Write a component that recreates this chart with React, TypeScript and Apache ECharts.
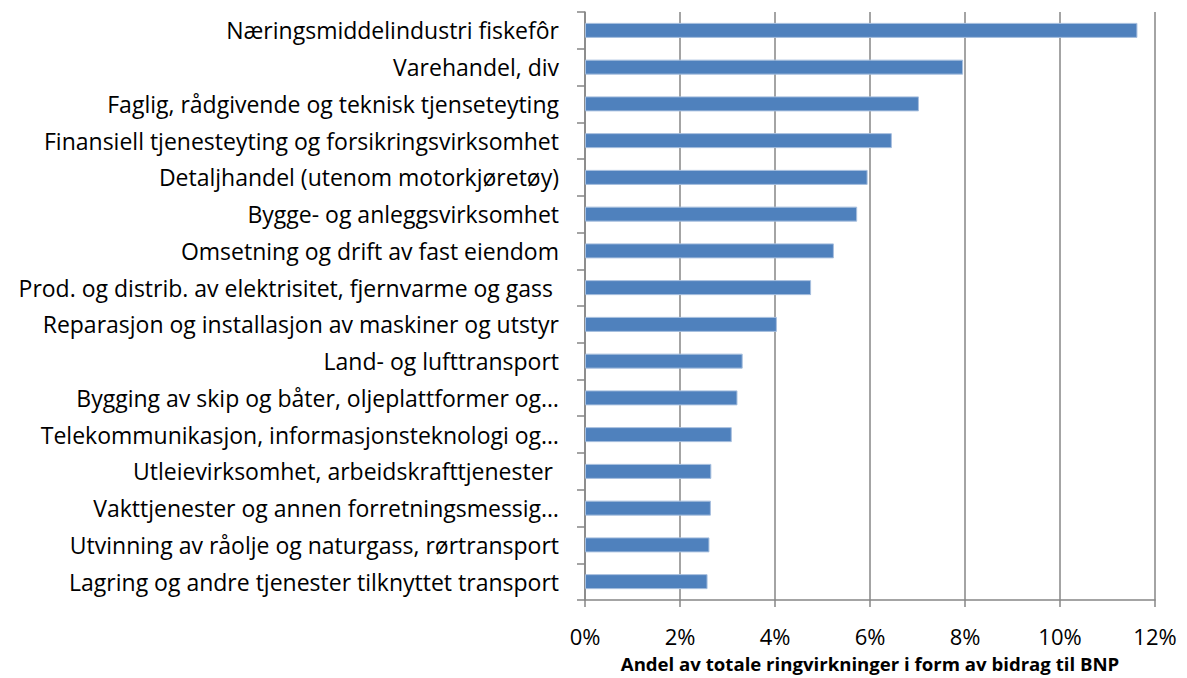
import React, { useEffect, useRef } from "react";
import * as echarts from "echarts";

const categories = [
  "Næringsmiddelindustri fiskefôr",
  "Varehandel, div",
  "Faglig, rådgivende og teknisk tjenseteyting",
  "Finansiell tjenesteyting og forsikringsvirksomhet",
  "Detaljhandel (utenom motorkjøretøy)",
  "Bygge- og anleggsvirksomhet",
  "Omsetning og drift av fast eiendom",
  "Prod. og distrib. av elektrisitet, fjernvarme og gass ",
  "Reparasjon og installasjon av maskiner og utstyr",
  "Land- og lufttransport",
  "Bygging av skip og båter, oljeplattformer og…",
  "Telekommunikasjon, informasjonsteknologi og…",
  "Utleievirksomhet, arbeidskrafttjenester ",
  "Vakttjenester og annen forretningsmessig…",
  "Utvinning av råolje og naturgass, rørtransport",
  "Lagring og andre tjenester tilknyttet transport",
];

const shares = [11.63, 7.96, 7.03, 6.46, 5.95, 5.73, 5.24, 4.76, 4.04, 3.32, 3.21, 3.09, 2.66, 2.65, 2.62, 2.58];

const xTicks = { min: 0, max: 12, interval: 2 };
const axisTitle = "Andel av totale ringvirkninger i form av bidrag til BNP";

export default function App() {
  const ref = useRef<HTMLDivElement>(null);
  useEffect(() => {
    if (!ref.current) return;
    const chart = echarts.init(ref.current, undefined, { renderer: "svg" });
    const font = "'Open Sans', 'Noto Sans', sans-serif";
    chart.setOption({
      animation: false,
      backgroundColor: "#ffffff",
      grid: { left: 585, right: 32, top: 12, bottom: 68, containLabel: false },
      xAxis: {
        type: "value",
        min: xTicks.min,
        max: xTicks.max,
        interval: xTicks.interval,
        axisLine: { show: true, lineStyle: { color: "#868686", width: 1.5 } },
        axisTick: { show: true, length: 7, lineStyle: { color: "#868686", width: 1.5 } },
        splitLine: { show: true, lineStyle: { color: "#868686", width: 1.5 } },
        axisLabel: {
          formatter: (v: number) => `${v}%`,
          color: "#000",
          fontSize: 22,
          fontFamily: font,
          margin: 25,
        },
        name: axisTitle,
        nameLocation: "middle",
        nameGap: 54,
        nameTextStyle: { color: "#000", fontSize: 18.6, fontWeight: "bold", fontFamily: font },
      },
      yAxis: {
        type: "category",
        inverse: true,
        data: categories,
        axisLine: { show: true, lineStyle: { color: "#868686", width: 1.5 } },
        axisTick: { show: true, length: 8, lineStyle: { color: "#868686", width: 1.5 } },
        splitLine: { show: false },
        axisLabel: {
          color: "#000",
          fontSize: 23,
          fontFamily: font,
          margin: 26,
        },
      },
      series: [
        {
          type: "bar",
          data: shares,
          barWidth: 15,
          itemStyle: { color: "#4F81BD", borderColor: "#a7bfde", borderWidth: 1 },
        },
      ],
    });
    return () => chart.dispose();
  }, []);
  return (
    <div
      ref={ref}
      style={{ position: "fixed", left: 0, top: 0, width: 1187, height: 678 }}
    />
  );
}
